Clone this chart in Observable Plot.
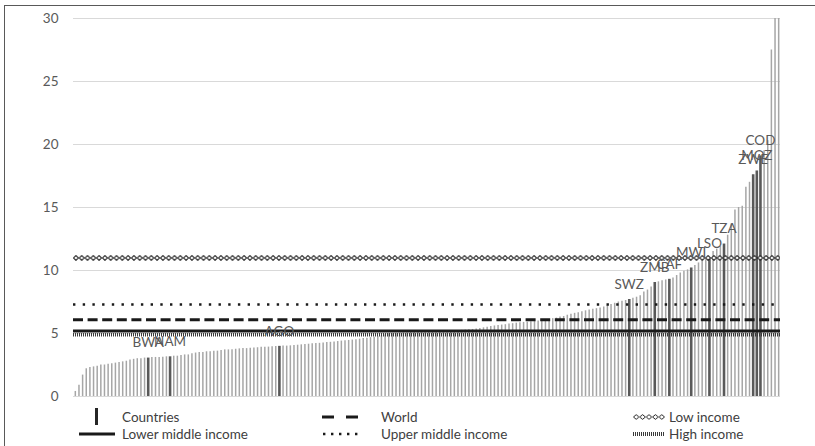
<!DOCTYPE html>
<html>
<head>
<meta charset="utf-8">
<script src="https://cdn.jsdelivr.net/npm/d3@7"></script>
<script src="https://cdn.jsdelivr.net/npm/@observablehq/plot@0.6"></script>
<style>
  body { margin: 0; background: #fff; }
  #wrap { position: relative; width: 815px; height: 446px; overflow: hidden; font-family: Lato, "Open Sans", sans-serif; background: #fff; }
  #frame { position: absolute; left: 4px; top: 5px; width: 900px; height: 600px; border: 1px solid #595959; box-sizing: border-box; }
  #chart { position: absolute; left: 0; top: 0; }
  #legend { position: absolute; left: 0; top: 400px; width: 815px; height: 46px; }
  .sym { position: absolute; overflow: visible; }
  .lab { position: absolute; font-size: 13.5px; color: #404040; line-height: 16px; white-space: nowrap; }
</style>
</head>
<body>
<div id="wrap">
  <div id="frame"></div>
  <div id="chart"></div>
  <div id="legend"></div>
</div>
<script>
// Country values, sorted ascending (one bar per country)
const shares = [
  0.4, 0.9, 1.7, 2.2, 2.3, 2.35, 2.4, 2.5, 2.5, 2.55,
  2.6, 2.65, 2.7, 2.75, 2.8, 2.9, 2.95, 3.0, 3.0, 3.05,
  3.05, 3.1, 3.1, 3.1, 3.12, 3.15, 3.15, 3.2, 3.2, 3.25,
  3.3, 3.3, 3.4, 3.45, 3.5, 3.5, 3.55, 3.55, 3.6, 3.6,
  3.65, 3.7, 3.7, 3.72, 3.75, 3.78, 3.8, 3.8, 3.82, 3.85,
  3.87, 3.9, 3.9, 3.92, 3.95, 3.96, 3.98, 4.0, 4.0, 4.02,
  4.05, 4.07, 4.1, 4.12, 4.15, 4.18, 4.2, 4.22, 4.25, 4.28,
  4.3, 4.33, 4.36, 4.4, 4.42, 4.45, 4.48, 4.5, 4.55, 4.6,
  4.63, 4.67, 4.7, 4.75, 4.8, 4.9, 5.0, 5.0, 5.02, 5.03,
  5.05, 5.05, 5.07, 5.08, 5.1, 5.1, 5.12, 5.13, 5.15, 5.15,
  5.17, 5.18, 5.2, 5.2, 5.22, 5.23, 5.25, 5.27, 5.3, 5.32,
  5.35, 5.4, 5.45, 5.5, 5.55, 5.6, 5.63, 5.67, 5.7, 5.75,
  5.78, 5.82, 5.85, 5.88, 5.9, 5.93, 5.96, 6.0, 6.03, 6.08,
  6.12, 6.18, 6.22, 6.3, 6.35, 6.45, 6.52, 6.6, 6.65, 6.72,
  6.8, 6.87, 6.92, 6.97, 7.02, 7.1, 7.2, 7.3, 7.4, 7.5,
  7.55, 7.62, 7.7, 7.8, 7.88, 8.0, 8.3, 8.45, 8.7, 9.05,
  9.1, 9.18, 9.25, 9.3, 9.4, 9.6, 9.8, 9.95, 10.05, 10.2,
  10.4, 10.6, 10.75, 10.85, 10.9, 11.5, 11.7, 11.9, 12.1, 12.8,
  13.7, 14.8, 15.0, 15.1, 16.6, 17.0, 17.6, 17.9, 19.1, 19.5,
  20.3, 27.5, 32, 35
];

// Highlighted countries and their rank in the sorted list
const labelCodes = ["BWA", "NAM", "AGO", "SWZ", "ZMB", "CAF", "MWI", "LSO", "TZA", "ZWE", "MOZ", "COD"];
const labelRanks = [20, 26, 56, 152, 159, 163, 169, 174, 178, 186, 187, 188];

// Income-group and world reference levels
const groupNames = ["World", "Low income", "Lower middle income", "Upper middle income", "High income"];
const groupValues = [6.1, 11.0, 5.2, 7.3, 4.9];

const yTicks = [0, 5, 10, 15, 20, 25, 30];

const countries = shares.map((value, rank) => {
  const k = labelRanks.indexOf(rank);
  return { rank, value, code: k >= 0 ? labelCodes[k] : null };
});
const plain = countries.filter(d => d.code === null);
const marked = countries.filter(d => d.code !== null);
const level = name => [groupValues[groupNames.indexOf(name)]];

const ink = "#1a1a1a";

const chart = Plot.plot({
  width: 815,
  height: 400,
  marginLeft: 73,
  marginRight: 35,
  marginTop: 18,
  marginBottom: 4,
  style: { fontFamily: "Lato, 'Open Sans', sans-serif", background: "transparent", overflow: "visible" },
  x: { type: "linear", domain: [-0.5, shares.length - 0.5], axis: null },
  y: { domain: [0, 30], axis: null },
  marks: [
    Plot.gridY(yTicks, { stroke: "#d9d9d9", strokeOpacity: 1, strokeWidth: 1 }),
    Plot.axisY(yTicks, { tickSize: 0, tickPadding: 15, fontSize: 13.5, fill: "#595959", label: null }),
    Plot.ruleX(plain, { x: "rank", y1: 0, y2: "value", stroke: "#a6a6a6", strokeWidth: 1.5, clip: true }),
    Plot.ruleX(marked, { x: "rank", y1: 0, y2: "value", stroke: "#595959", strokeWidth: 2.6, clip: true }),
    Plot.ruleY(level("High income"), { stroke: "#3a3a3a", strokeWidth: 3.5, strokeDasharray: "1 1" }),
    Plot.ruleY(level("Lower middle income"), { stroke: ink, strokeWidth: 2.8 }),
    Plot.ruleY(level("World"), { stroke: ink, strokeWidth: 3, strokeDasharray: "10 4.6" }),
    Plot.ruleY(level("Upper middle income"), { stroke: ink, strokeWidth: 2.6, strokeDasharray: "2.4 7.3" }),
    Plot.ruleY(level("Low income"), { stroke: "url(#lowIncomeDiamonds)", strokeWidth: 6 }),
    Plot.text(marked, { x: "rank", y: "value", text: "code", dy: -15, fontSize: 13.5, fill: "#595959" })
  ]
});

// Diamond chain pattern for the low-income level, aligned to its line
const yLow = chart.scale("y").apply(level("Low income")[0]);
const defs = document.createElementNS("http://www.w3.org/2000/svg", "defs");
defs.innerHTML =
  `<pattern id="lowIncomeDiamonds" patternUnits="userSpaceOnUse" x="73" y="${yLow - 3}" width="5.8" height="6">` +
  `<path d="M0.5,3L2.9,0.6L5.3,3L2.9,5.4Z" fill="#fff" stroke="#111" stroke-width="1"/></pattern>` +
  `<pattern id="legendDiamonds" patternUnits="userSpaceOnUse" x="0" y="0" width="6.4" height="6">` +
  `<path d="M0.5,3L3.2,0.6L5.9,3L3.2,5.4Z" fill="#fff" stroke="#111" stroke-width="0.9"/></pattern>`;
chart.insertBefore(defs, chart.firstChild);
document.getElementById("chart").appendChild(chart);

// Legend below the chart
const legend = document.getElementById("legend");
const rows = [17, 34];
const symbols = {
  "Countries": `<svg class="sym" style="left:94px;top:8px" width="6" height="18"><rect x="1" y="0" width="3" height="17" fill="#262626"/></svg>`,
  "Lower middle income": `<svg class="sym" style="left:78px;top:31px" width="40" height="6"><line x1="1" x2="37" y1="3" y2="3" stroke="${ink}" stroke-width="3"/></svg>`,
  "World": `<svg class="sym" style="left:321px;top:14px" width="40" height="6"><line x1="1" x2="37" y1="3" y2="3" stroke="${ink}" stroke-width="3" stroke-dasharray="12 12"/></svg>`,
  "Upper middle income": `<svg class="sym" style="left:321px;top:31px" width="40" height="6"><line x1="2" x2="38" y1="3" y2="3" stroke="${ink}" stroke-width="2.4" stroke-dasharray="2.4 5.6"/></svg>`,
  "Low income": `<svg class="sym" style="left:633px;top:14px" width="33" height="6"><rect x="0" y="0" width="32" height="6" fill="url(#legendDiamonds)"/></svg>`,
  "High income": `<svg class="sym" style="left:633px;top:31px" width="33" height="6"><line x1="0" x2="32" y1="3" y2="3" stroke="#3a3a3a" stroke-width="4" stroke-dasharray="1 1"/></svg>`
};
const textPos = {
  "Countries": [122, rows[0]],
  "Lower middle income": [122, rows[1]],
  "World": [381, rows[0]],
  "Upper middle income": [381, rows[1]],
  "Low income": [669, rows[0]],
  "High income": [669, rows[1]]
};
let html = "";
for (const name of ["Countries", ...groupNames]) {
  const [x, y] = textPos[name];
  html += symbols[name];
  html += `<div class="lab" style="left:${x}px;top:${y - 8}px">${name}</div>`;
}
legend.innerHTML = html;
</script>
</body>
</html>
